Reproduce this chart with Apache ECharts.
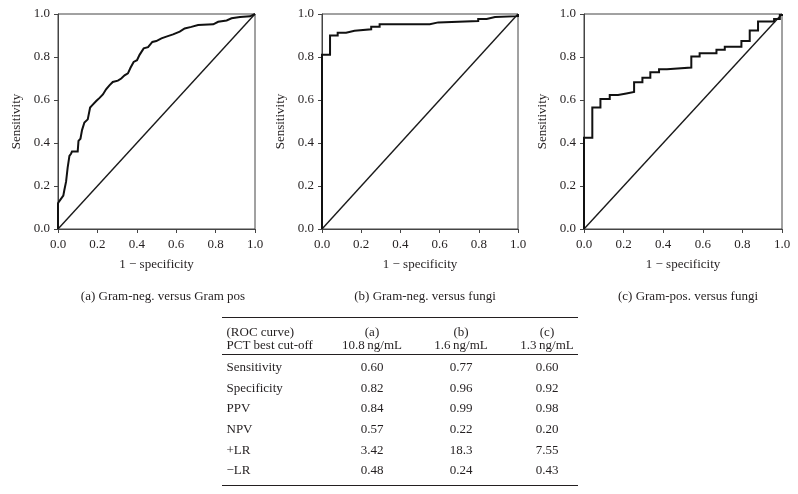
<!DOCTYPE html>
<html><head><meta charset="utf-8">
<script src="https://cdn.jsdelivr.net/npm/echarts@6/dist/echarts.min.js"></script>
<style>html,body{margin:0;padding:0;background:#fff}#c{width:798px;height:494px}</style>
</head><body><div id="c"></div>
<script>
// ROC curve (a): Gram-neg. versus Gram pos
const fprA = [0,0,0.007,0.015,0.027,0.032,0.041,0.049,0.058,0.066,0.071,0.100,0.104,0.114,0.122,0.134,0.151,0.163,0.173,0.194,0.211,0.228,0.244,0.261,0.278,0.304,0.321,0.338,0.355,0.368,0.384,0.401,0.414,0.435,0.457,0.479,0.499,0.525,0.550,0.584,0.618,0.643,0.677,0.711,0.788,0.813,0.856,0.881,0.924,0.975,1.0];
const tprA = [0,0.12,0.13,0.14,0.155,0.18,0.22,0.285,0.34,0.35,0.36,0.36,0.41,0.42,0.46,0.495,0.51,0.565,0.575,0.595,0.61,0.626,0.65,0.668,0.684,0.69,0.70,0.715,0.724,0.75,0.777,0.785,0.81,0.84,0.846,0.87,0.874,0.887,0.895,0.905,0.918,0.933,0.94,0.949,0.952,0.964,0.97,0.98,0.986,0.989,1.0];
// ROC curve (b): Gram-neg. versus fungi (step corners)
const fprB = [0,0,0.041,0.080,0.123,0.166,0.251,0.294,0.550,0.593,0.797,0.840,0.883,1.0];
const tprB = [0,0.811,0.900,0.913,0.922,0.929,0.941,0.952,0.961,0.967,0.977,0.986,0.990,1.0];
// ROC curve (c): Gram-pos. versus fungi (step corners)
const fprC = [0,0,0.042,0.083,0.130,0.172,0.214,0.253,0.295,0.335,0.379,0.419,0.542,0.584,0.669,0.711,0.795,0.837,0.879,0.960,0.989,1.0];
const tprC = [0,0.425,0.565,0.605,0.623,0.630,0.637,0.682,0.704,0.729,0.743,0.751,0.802,0.817,0.834,0.848,0.874,0.923,0.965,0.977,0.995,1.0];

const xTicks = ['0.0','0.2','0.4','0.6','0.8','1.0'];
const captions = ['(a) Gram-neg. versus Gram pos','(b) Gram-neg. versus fungi','(c) Gram-pos. versus fungi'];

// Table
const headRow1 = ['(ROC curve)','(a)','(b)','(c)'];
const headRow2 = ['PCT best cut-off','10.8\u2009ng/mL','1.6\u2009ng/mL','1.3\u2009ng/mL'];
const rowLabels = ['Sensitivity','Specificity','PPV','NPV','+LR','\u2212LR'];
const colA = ['0.60','0.82','0.84','0.57','3.42','0.48'];
const colB = ['0.77','0.96','0.99','0.22','18.3','0.24'];
const colC = ['0.60','0.92','0.98','0.20','7.55','0.43'];

const FONT = '"Liberation Serif","DejaVu Serif",serif';
const FS = 13;
const TXT = '#231f20';
const chart = echarts.init(document.getElementById('c'), null, {renderer:'canvas'});

const grids = [
  {left:58, top:14, width:197, height:215},
  {left:322, top:14, width:196, height:215},
  {left:584, top:14, width:198, height:215}
];
const zip = (xs, ys) => xs.map((x,i)=>[x, ys[i]]);
const curves = [zip(fprA,tprA), zip(fprB,tprB), zip(fprC,tprC)];
const steps = [false, 'end', 'end'];

const xAxes = [], yAxes = [], series = [], titles = [];
grids.forEach((g,i)=>{
  g.show = true; g.borderColor = '#444'; g.borderWidth = 1; g.backgroundColor='transparent';
  xAxes.push({gridIndex:i, type:'value', min:0, max:1, interval:0.2,
    name:'1 \u2212 specificity', nameLocation:'middle', nameGap:29,
    nameTextStyle:{fontFamily:FONT, fontSize:FS, color:TXT},
    axisLine:{show:true, lineStyle:{color:'#444', width:1}},
    axisTick:{show:true, inside:false, length:4, lineStyle:{color:'#444'}},
    axisLabel:{fontFamily:FONT, fontSize:FS, color:TXT, margin:9, formatter:(v)=>xTicks[Math.round(v*5)]},
    splitLine:{show:false}});
  yAxes.push({gridIndex:i, type:'value', min:0, max:1, interval:0.2,
    name:'Sensitivity', nameLocation:'middle', nameGap:35, nameRotate:90,
    nameTextStyle:{fontFamily:FONT, fontSize:FS, color:TXT},
    axisLine:{show:true, lineStyle:{color:'#444', width:1}},
    axisTick:{show:true, inside:false, length:4, lineStyle:{color:'#444'}},
    axisLabel:{fontFamily:FONT, fontSize:FS, color:TXT, margin:8, formatter:(v)=>xTicks[Math.round(v*5)]},
    splitLine:{show:false}});
  series.push({type:'line', xAxisIndex:i, yAxisIndex:i, data:[[0,0],[1,1]], showSymbol:false, silent:true,
    lineStyle:{color:'#1a1a1a', width:1.4}, z:2});
  series.push({type:'line', xAxisIndex:i, yAxisIndex:i, data:curves[i], step:steps[i], showSymbol:false, silent:true,
    lineStyle:{color:'#111', width:2, join:'miter'}, z:3});
  titles.push({text:captions[i], left:g.left + g.width/2 + (i===0?1.5:0), top:285, textAlign:'center',
    textStyle:{fontFamily:FONT, fontSize:FS, fontWeight:'normal', color:TXT}});
});

// table graphics
const tX0 = 222, tX1 = 578;
const colX = [226.5, 372, 461, 547];
const rowY1 = 333, rowY2 = 346, bodyY0 = 367.7, bodyDY = 20.6;
const gfx = [];
const hline = (y)=>({type:'line', shape:{x1:tX0, y1:y, x2:tX1, y2:y}, style:{stroke:'#231f20', lineWidth:1}});
gfx.push(hline(317.5), hline(354.5), hline(485.5));
const txt = (s, x, y, align)=>({type:'text', x:x, y:y, style:{text:s, fontFamily:FONT, fontSize:FS, fill:TXT, align:align, verticalAlign:'middle'}});
[headRow1, headRow2].forEach((row, r)=>{
  row.forEach((s,c)=>{ gfx.push(txt(s, colX[c], r===0?rowY1:rowY2, c===0?'left':'center')); });
});
rowLabels.forEach((lab, r)=>{
  const y = bodyY0 + r*bodyDY;
  gfx.push(txt(lab, colX[0], y, 'left'));
  gfx.push(txt(colA[r], colX[1], y, 'center'));
  gfx.push(txt(colB[r], colX[2], y, 'center'));
  gfx.push(txt(colC[r], colX[3], y, 'center'));
});

chart.setOption({
  animation:false,
  backgroundColor:'#fff',
  title:titles,
  grid:grids,
  xAxis:xAxes,
  yAxis:yAxes,
  series:series,
  graphic:gfx
});
</script></body></html>
